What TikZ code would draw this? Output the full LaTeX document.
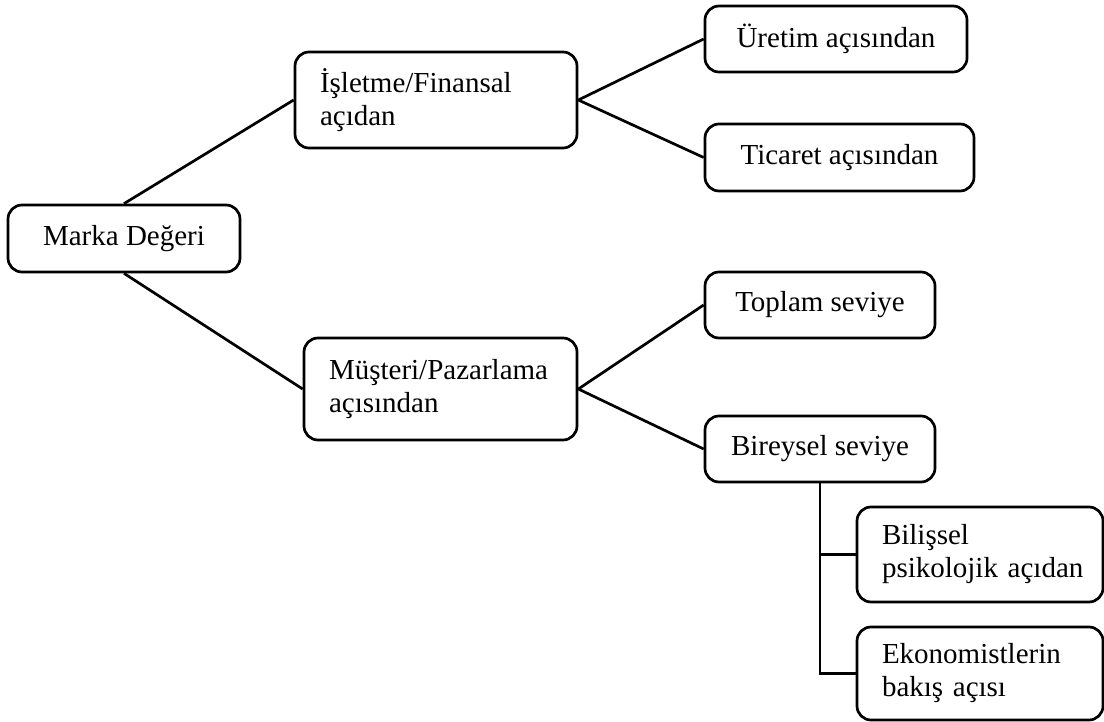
\documentclass[tikz,border=0pt]{standalone}
\usepackage{fontspec}
\setmainfont{Liberation Serif}
\begin{document}
\begin{tikzpicture}[x=1pt,y=-1pt,
  box/.style={draw=black, line width=2.7pt, rounded corners=14pt, fill=white,
    inner xsep=0pt, inner ysep=0pt, align=center,
    font=\fontsize{29}{33}\selectfont},
  multibox/.style={box, align=left, inner xsep=25pt},
  link/.style={draw=black, line width=2.7pt}]
  \useasboundingbox (0,0) rectangle (1104,722);
  \fill[white] (0,0) rectangle (1104,722);

  % root
  \node[box, minimum width=232pt, minimum height=67pt] (marka) at (124,238.5) {Marka Değeri};

  % two perspectives
  \node[multibox, minimum width=282pt, minimum height=96pt, text width=232pt] (islet) at (436,100)
    {İşletme/Finansal\\açıdan};
  \node[multibox, minimum width=273pt, minimum height=102pt, text width=223pt] (musteri) at (440.5,389)
    {Müşteri/Pazarlama\\açısından};

  % firm-side leaves
  \node[box, minimum width=262pt, minimum height=66pt] (uretim) at (836,39) {Üretim açısından};
  \node[box, minimum width=269pt, minimum height=67pt] (ticaret) at (839.5,157.5) {Ticaret açısından};

  % customer-side levels
  \node[box, minimum width=230pt, minimum height=66pt] (toplam) at (820,305) {Toplam seviye};
  \node[box, minimum width=230pt, minimum height=66pt] (bireysel) at (820,449) {Bireysel seviye};

  % individual-level approaches
  \node[multibox, minimum width=246pt, minimum height=95pt, text width=196pt] (bilissel) at (980,554.5)
    {Bilişsel\\\mbox{psikolojik açıdan}};
  \node[multibox, minimum width=246pt, minimum height=93pt, text width=196pt] (eko) at (980,673.5)
    {Ekonomistlerin\\\mbox{bakış açısı}};

  % connectors
  \draw[link] (marka.north) -- (islet.west);
  \draw[link] (marka.south) -- (musteri.west);
  \draw[link] (islet.east) -- (uretim.west);
  \draw[link] (islet.east) -- (ticaret.west);
  \draw[link] (musteri.east) -- (toplam.west);
  \draw[link] (musteri.east) -- (bireysel.west);
  \draw[link] (bireysel.south) |- (bilissel.west);
  \draw[link] (bireysel.south) |- (eko.west);
\end{tikzpicture}
\end{document}
